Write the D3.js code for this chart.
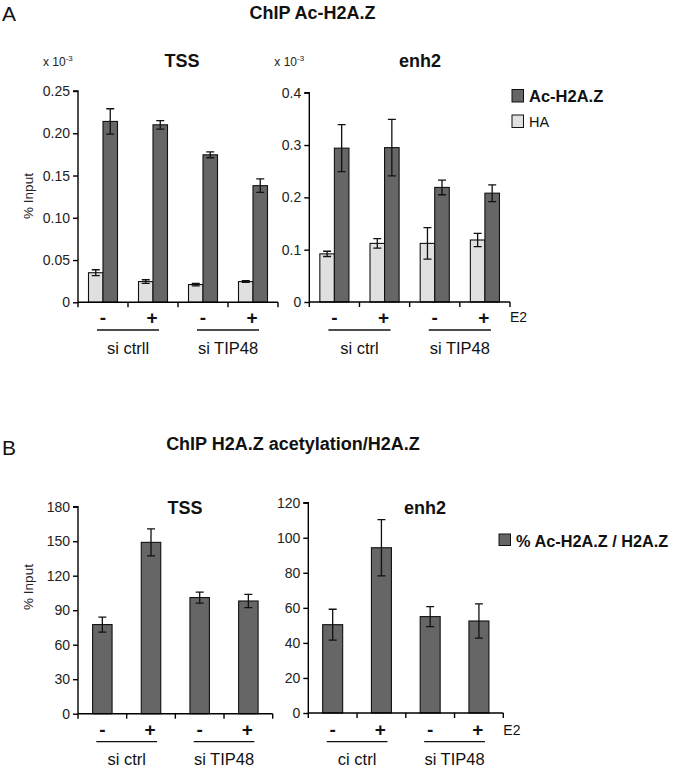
<!DOCTYPE html>
<html>
<head>
<meta charset="utf-8">
<script src="https://cdn.jsdelivr.net/npm/d3@7"></script>
<style>
  body { margin: 0; background: #fff; }
  svg { display: block; font-family: "Liberation Sans", Arial, sans-serif; }
</style>
</head>
<body>
<svg id="chart" width="675" height="769"></svg>
<script>
// ---------- DATA ----------
const conditions = ["-", "+", "-", "+"];          // E2 treatment per bar position
const groupsA_TSS = ["si ctrll", "si TIP48"];
const groupsA_enh = ["si ctrl", "si TIP48"];
const groupsB_TSS = ["si ctrl", "si TIP48"];
const groupsB_enh = ["ci ctrl", "si TIP48"];

// Panel A (x 10^-3 % input)
const tssHA      = [0.035, 0.0245, 0.021, 0.0245];
const tssHAErr   = [0.0035, 0.0022, 0.0015, 0.001];
const tssAc      = [0.214, 0.210, 0.1745, 0.138];
const tssAcErr   = [0.015, 0.005, 0.0035, 0.008];
const enhHA      = [0.092, 0.112, 0.112, 0.1185];
const enhHAErr   = [0.005, 0.009, 0.030, 0.0125];
const enhAc      = [0.294, 0.295, 0.219, 0.208];
const enhAcErr   = [0.045, 0.054, 0.014, 0.016];

// Panel B (% Ac-H2A.Z / H2A.Z)
const tssRatio    = [77.5, 149, 101, 98];
const tssRatioErr = [6.5, 11.7, 4.8, 5.8];
const enhRatio    = [50.4, 94.3, 55, 52.5];
const enhRatioErr = [8.8, 16, 5.7, 9.8];

const ticksA_TSS = [0, 0.05, 0.10, 0.15, 0.20, 0.25];
const ticksA_enh = [0, 0.1, 0.2, 0.3, 0.4];
const ticksB_TSS = [0, 30, 60, 90, 120, 150, 180];
const ticksB_enh = [0, 20, 40, 60, 80, 100, 120];

const seriesA = ["HA", "Ac-H2A.Z"];
const colorDark = "#666666";
const colorLight = "#e0e0e0";

// ---------- DRAW ----------
const svg = d3.select("#chart");

function panel(o) {
  const g = svg.append("g");
  const x = d3.scaleBand().domain(d3.range(4)).range([o.left, o.right]).padding(0);
  const y = d3.scaleLinear().domain([0, o.ymax]).range([o.y0, o.ytop]);
  const bw = x.bandwidth();

  // bars
  o.series.forEach((s, si) => {
    const ns = o.series.length;
    const totalW = bw * o.barFrac;
    const sub = d3.scaleBand().domain(d3.range(ns)).range([-totalW / 2, totalW / 2]).padding(0);
    s.values.forEach((v, i) => {
      const cx = x(i) + bw / 2;
      const bx = cx + sub(si);
      g.append("rect")
        .attr("x", bx).attr("y", y(v))
        .attr("width", sub.bandwidth()).attr("height", y(0) - y(v))
        .attr("fill", s.color).attr("stroke", "#111").attr("stroke-width", 1.1);
      const ex = bx + sub.bandwidth() / 2;
      const e = s.err[i];
      const cap = 4;
      g.append("path")
        .attr("d", `M${ex},${y(v + e)}V${y(v - e)}M${ex - cap},${y(v + e)}H${ex + cap}M${ex - cap},${y(v - e)}H${ex + cap}`)
        .attr("stroke", "#111").attr("stroke-width", 1.3).attr("fill", "none");
    });
  });

  // y axis
  const yAxis = d3.axisLeft(y).tickValues(o.ticks).tickSize(5).tickPadding(3)
    .tickFormat(o.fmt);
  const ya = g.append("g").attr("transform", `translate(${o.left},0)`).call(yAxis);
  ya.select(".domain").attr("d", `M${-5},${o.ytop}H0V${o.y0}`).attr("stroke-width", 1.4);
  ya.selectAll(".tick line").attr("stroke-width", 1.4);
  ya.selectAll(".tick text").attr("font-size", 14).attr("fill", "#222")
    .attr("font-family", "Liberation Sans, Arial, sans-serif");

  // x axis with ticks at band boundaries
  const boundaries = d3.range(5).map(i => o.left + i * bw);
  g.append("line").attr("x1", o.left).attr("x2", o.right).attr("y1", o.y0).attr("y2", o.y0)
    .attr("stroke", "#000").attr("stroke-width", 1.4);
  g.selectAll(".xt").data(boundaries).enter().append("line")
    .attr("x1", d => d).attr("x2", d => d).attr("y1", o.y0).attr("y2", o.y0 + 5)
    .attr("stroke", "#000").attr("stroke-width", 1.4);

  // +/- labels
  conditions.forEach((c, i) => {
    g.append("text").attr("x", x(i) + bw / 2 + (c === "+" ? -1 : 0)).attr("y", o.signY)
      .attr("text-anchor", "middle").attr("dominant-baseline", "central")
      .attr("font-size", 19).attr("font-weight", "bold").attr("fill", "#111").text(c);
  });
  // underlines and group labels
  o.groups.forEach((gl, gi) => {
    const c1 = x(gi * 2) + bw / 2, c2 = x(gi * 2 + 1) + bw / 2;
    g.append("line").attr("x1", c1 - 6).attr("x2", c2 + 6)
      .attr("y1", o.lineY).attr("y2", o.lineY).attr("stroke", "#111").attr("stroke-width", 1.3);
    g.append("text").attr("x", (c1 + c2) / 2).attr("y", o.groupY)
      .attr("text-anchor", "middle").attr("font-size", 16.5).attr("fill", "#111").text(gl);
  });
  if (o.e2) {
    g.append("text").attr("x", o.right + 0).attr("y", o.signY).attr("dominant-baseline", "central")
      .attr("font-size", 14).attr("fill", "#111").text("E2");
  }
  // title
  g.append("text").attr("x", o.titleX).attr("y", o.titleY).attr("text-anchor", "middle")
    .attr("dominant-baseline", "central")
    .attr("font-size", 18).attr("font-weight", "bold").attr("fill", "#111").text(o.title);
  if (o.exp) {
    const t = g.append("text").attr("x", o.left - 35).attr("y", 66).attr("font-size", 12).attr("fill", "#222");
    t.append("tspan").text("x 10");
    t.append("tspan").attr("font-size", 8).attr("dy", -5).text("-3");
  }
}

const fmtA1 = d => d === 0 ? "0" : d3.format(".2f")(d);
const fmtA2 = d => d === 0 ? "0" : d3.format(".1f")(d);
const fmtB = d => d3.format("d")(d);

// Panel A
panel({ left: 78, right: 278, y0: 302.3, ytop: 91, ymax: 0.25, ticks: ticksA_TSS, fmt: fmtA1,
  series: [{ values: tssHA, err: tssHAErr, color: colorLight }, { values: tssAc, err: tssAcErr, color: colorDark }],
  barFrac: 0.58, signY: 317, lineY: 330, groupY: 354, groups: groupsA_TSS, title: "TSS", titleX: 182, titleY: 61, exp: true });
panel({ left: 309.3, right: 510, y0: 302, ytop: 92.7, ymax: 0.4, ticks: ticksA_enh, fmt: fmtA2,
  series: [{ values: enhHA, err: enhHAErr, color: colorLight }, { values: enhAc, err: enhAcErr, color: colorDark }],
  barFrac: 0.58, signY: 317, lineY: 330, groupY: 354, groups: groupsA_enh, title: "enh2", titleX: 420, titleY: 61, exp: true, e2: true });

// Panel B
panel({ left: 78, right: 272.7, y0: 713.7, ytop: 506.7, ymax: 180, ticks: ticksB_TSS, fmt: fmtB,
  series: [{ values: tssRatio, err: tssRatioErr, color: colorDark }],
  barFrac: 0.40, signY: 729.5, lineY: 741.7, groupY: 765, groups: groupsB_TSS, title: "TSS", titleX: 185, titleY: 508 });
panel({ left: 308.3, right: 503.3, y0: 713, ytop: 502.7, ymax: 120, ticks: ticksB_enh, fmt: fmtB,
  series: [{ values: enhRatio, err: enhRatioErr, color: colorDark }],
  barFrac: 0.41, signY: 729.5, lineY: 741.7, groupY: 765, groups: groupsB_enh, title: "enh2", titleX: 425, titleY: 508, e2: true });

// Panel letters and main titles
svg.append("text").attr("x", 2).attr("y", 21).attr("font-size", 21).attr("fill", "#111").text("A");
svg.append("text").attr("x", 2).attr("y", 455).attr("font-size", 21).attr("fill", "#111").text("B");
svg.append("text").attr("x", 312.5).attr("y", 13).attr("text-anchor", "middle").attr("dominant-baseline", "central")
  .attr("font-size", 18).attr("font-weight", "bold").attr("fill", "#111").text("ChIP Ac-H2A.Z");
svg.append("text").attr("x", 293).attr("y", 443.5).attr("text-anchor", "middle").attr("dominant-baseline", "central")
  .attr("font-size", 18).attr("font-weight", "bold").attr("fill", "#111").text("ChIP H2A.Z acetylation/H2A.Z");

// y-axis titles
[196, 587].forEach(cy => {
  svg.append("text").attr("transform", `translate(33,${cy}) rotate(-90)`).attr("text-anchor", "middle")
    .attr("font-size", 13.5).attr("fill", "#222").text("% Input");
});

// Legend A
const legA = [{ name: seriesA[1], color: colorDark, y: 89.5, bold: true, size: 16.5 },
              { name: seriesA[0], color: colorLight, y: 115, bold: false, size: 14.5 }];
legA.forEach(l => {
  svg.append("rect").attr("x", 512).attr("y", l.y).attr("width", 11.5).attr("height", 12.5)
    .attr("fill", l.color).attr("stroke", "#111").attr("stroke-width", 1);
  svg.append("text").attr("x", 529).attr("y", l.y + 6.5).attr("dominant-baseline", "central")
    .attr("font-size", l.size).attr("font-weight", l.bold ? "bold" : "normal").attr("fill", "#111").text(l.name);
});
// Legend B
svg.append("rect").attr("x", 499).attr("y", 534).attr("width", 11.5).attr("height", 11.5)
  .attr("fill", colorDark).attr("stroke", "#111").attr("stroke-width", 1);
svg.append("text").attr("x", 516).attr("y", 540.5).attr("dominant-baseline", "central")
  .attr("font-size", 16.3).attr("font-weight", "bold").attr("fill", "#111").text("% Ac-H2A.Z / H2A.Z");
</script>
</body>
</html>
